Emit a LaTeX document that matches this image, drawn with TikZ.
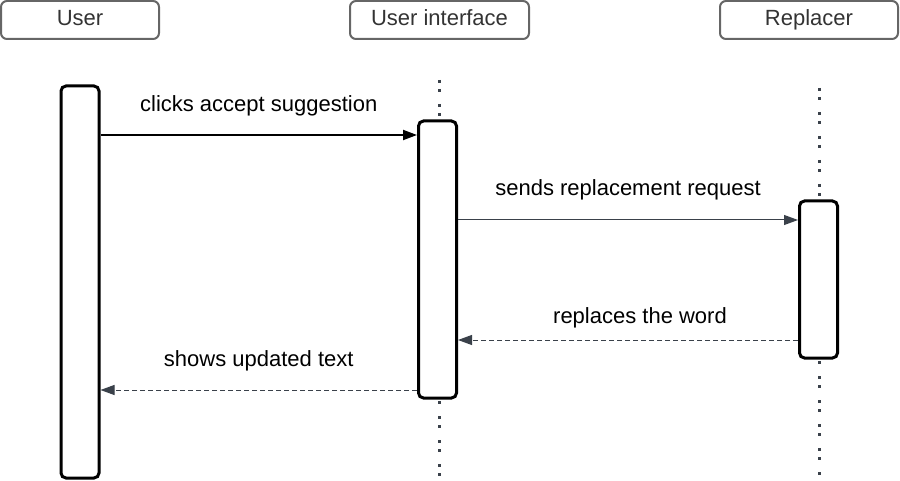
\documentclass[tikz,border=0pt]{standalone}
\usepackage{fontspec}
\setmainfont{Liberation Sans}
\usetikzlibrary{arrows.meta}
\definecolor{headgray}{RGB}{102,102,102}
\definecolor{slate}{RGB}{58,65,74}
\tikzset{
  actor/.style={draw=headgray, line width=2pt, rounded corners=6pt, text=black!80,
    minimum height=38pt, inner sep=0pt, text height=16pt, text depth=5pt,
    font=\fontsize{22}{26}\selectfont},
  activation/.style={draw=black, fill=white, line width=3pt, rounded corners=5pt,
    minimum width=38pt, inner sep=0pt},
  lifeline/.style={slate, line width=3pt, dash pattern=on 3pt off 6pt on 3pt off 12pt},
  call/.style={draw=black, line width=2pt, -{Triangle[length=14pt,width=10pt]}},
  msg/.style={draw=slate, line width=1pt, -{Triangle[length=14pt,width=10pt,fill=slate]}},
  reply/.style={msg, dash pattern=on 5pt off 3pt},
  lbl/.style={font=\fontsize{22}{26}\selectfont, text=black}
}
\begin{document}
\begin{tikzpicture}[x=1pt, y=-1pt]
        \useasboundingbox (0,0) rectangle (900,481);
        % participants
        \node[actor, minimum width=158pt] (user) at (80, 20) {User};
        \node[actor, minimum width=179pt] (ui) at (439.5, 20) {User interface};
        \node[actor, minimum width=178pt] (rep) at (809, 20) {Replacer};

        % lifelines
        \coordinate (uiTop) at (439, 80);
        \coordinate (uiBot) at (439, 481);
        \coordinate (repTop) at (819, 88);
        \coordinate (repBot) at (819, 481);
        \draw[lifeline] (uiTop) -- (uiBot);
        \draw[lifeline] (repTop) -- (repBot);

        % activations
        \node[activation, minimum height=392pt] (useract) at (80, 282) {};
        \node[activation, minimum height=277pt] (uiact) at (437.5, 259.5) {};
        \node[activation, minimum height=157pt] (repact) at (818.5, 279.5) {};

        % messages
        \draw[call] (useract.east |- 0,135) -- (uiact.west |- 0,135)
          node[lbl, midway, yshift=29pt] (m1) {clicks accept suggestion};
        \draw[msg] (uiact.east |- 0,220) -- (repact.west |- 0,220)
          node[lbl, midway, yshift=30pt] (m2) {sends replacement request};
        \draw[reply] (repact.west |- 0,340) -- (uiact.east |- 0,340)
          node[lbl, midway, yshift=22pt, xshift=12pt] (m3) {replaces the word};
        \draw[reply] (uiact.west |- 0,390) -- (useract.east |- 0,390)
          node[lbl, midway, yshift=29pt] (m4) {shows updated text};
      \end{tikzpicture}
\end{document}
